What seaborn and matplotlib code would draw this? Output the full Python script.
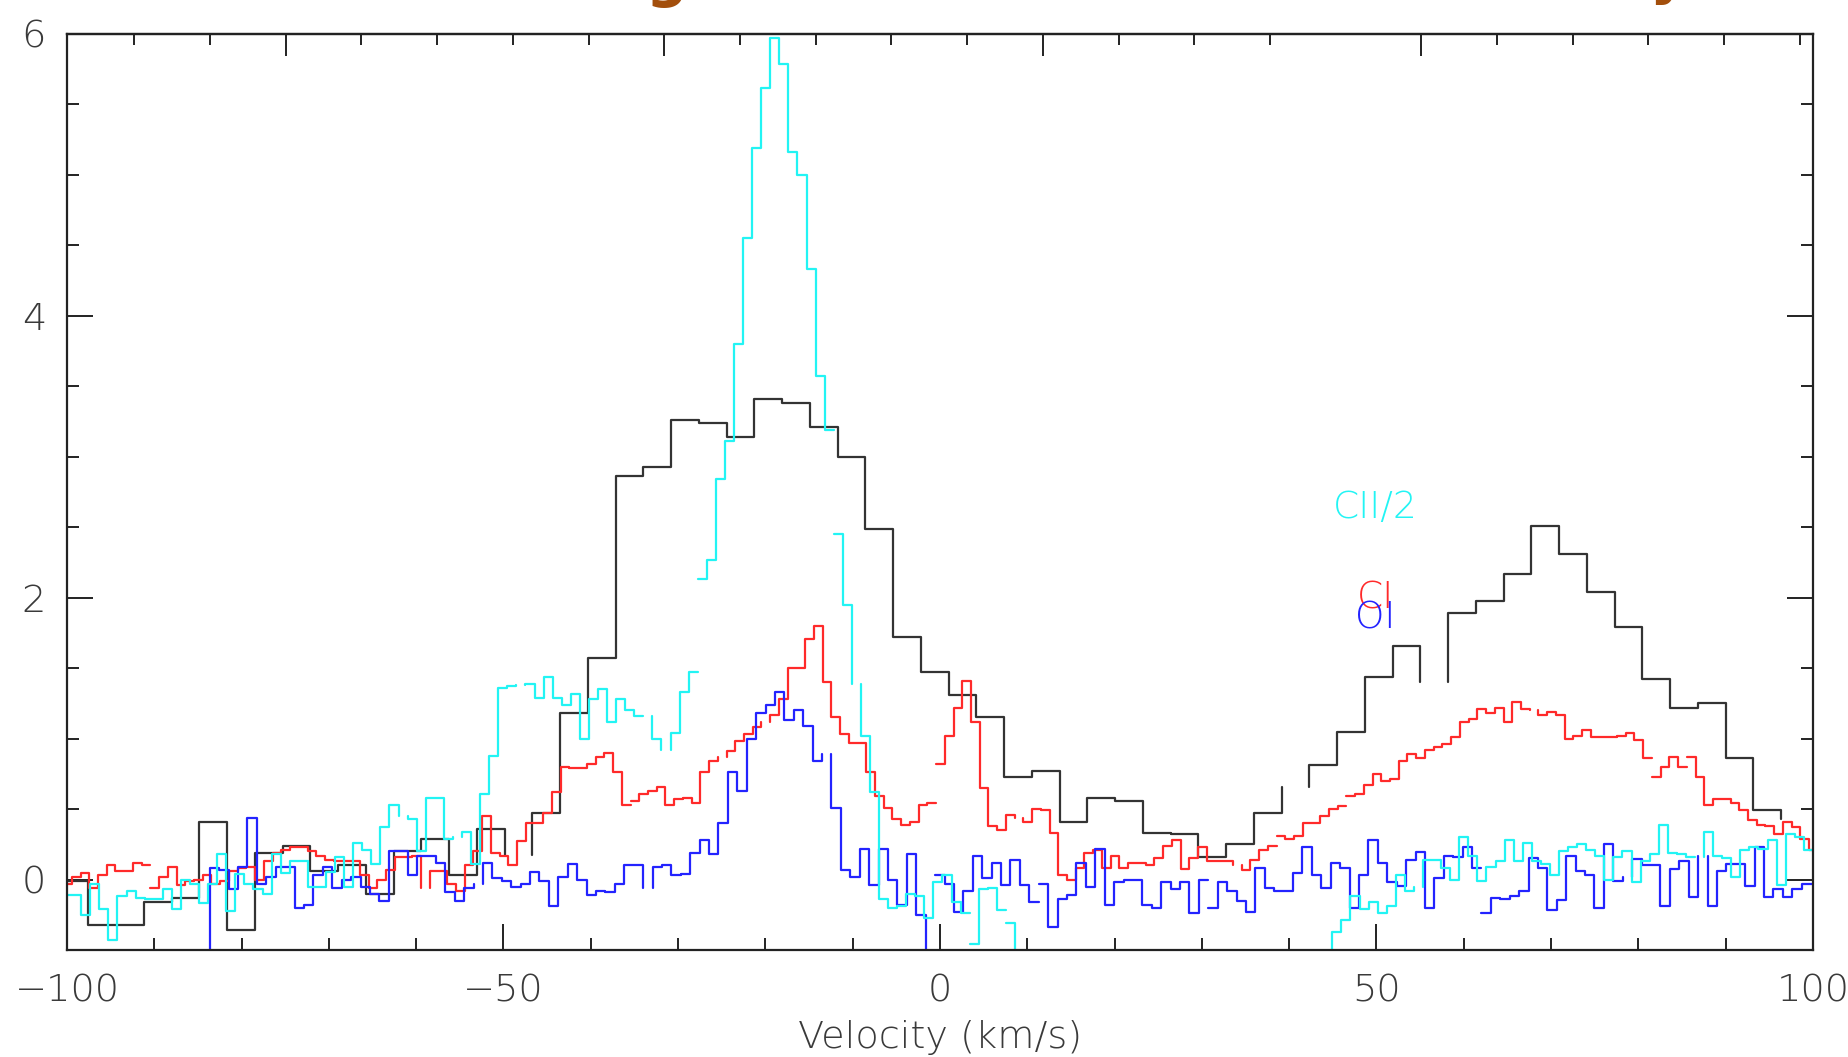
import numpy as np
import pandas as pd
import matplotlib
matplotlib.use("Agg")
import matplotlib.pyplot as plt
from matplotlib import font_manager as fm
import seaborn as sns

# ---------------- data ----------------
# black spectrum: coarse channels
black_start = -100.74
black_width = 3.179
black_vals = [-0.01, -0.32, -0.32, -0.16, -0.13, 0.41, -0.36, 0.19, 0.24, 0.06,
              0.10, -0.10, 0.20, 0.29, 0.03, 0.36, 0.175, 0.47, 1.18, 1.57,
              2.86, 2.93, 3.26, 3.24, 3.14, 3.41, 3.38, 3.21, 3.00, 2.49,
              1.72, 1.47, 1.31, 1.15, 0.73, 0.77, 0.41, 0.58, 0.56, 0.33,
              0.32, 0.16, 0.25, 0.47, 0.66, 0.815, 1.05, 1.44, 1.66, 1.40,
              1.89, 1.98, 2.17, 2.51, 2.31, 2.04, 1.79, 1.42, 1.22, 1.25,
              0.86, 0.49, 0.43]
black_hidden = [16, 44, 49, 62]
black_breaks = []

# CI (red)
ci_start = -100.45
ci_width = 1.0
ci_vals = [-0.03, 0.02, 0.045, -0.06, 0.03, 0.10, 0.06, 0.06, 0.12, 0.10,
           -0.06, 0.02, 0.09, -0.04, -0.01, 0.00, 0.03, -0.03, -0.01, 0.06,
           0.08, 0.09, 0.00, 0.13, 0.19, 0.21, 0.23, 0.23, 0.20, 0.17,
           0.14, 0.13, 0.13, 0.13, 0.03, -0.06, 0.00, 0.07, 0.16, 0.16,
           0.17, -0.06, 0.06, 0.06, -0.03, -0.08, 0.10, 0.20, 0.45, 0.19,
           0.17, 0.10, 0.27, 0.40, 0.40, 0.47, 0.62, 0.80, 0.79, 0.79,
           0.82, 0.87, 0.90, 0.76, 0.53, 0.56, 0.61, 0.625, 0.66, 0.53,
           0.57, 0.58, 0.54, 0.76, 0.84, 0.87, 0.91, 0.98, 1.03, 1.08,
           1.12, 1.17, 1.28, 1.50, 1.50, 1.71, 1.80, 1.40, 1.15, 1.03,
           0.97, 0.97, 0.76, 0.59, 0.51, 0.43, 0.39, 0.41, 0.53, 0.54,
           0.82, 1.02, 1.22, 1.41, 1.12, 0.65, 0.38, 0.35, 0.46, 0.44,
           0.41, 0.50, 0.49, 0.33, 0.03, 0.00, 0.08, 0.19, 0.21, 0.085,
           0.17, 0.085, 0.12, 0.12, 0.10, 0.15, 0.24, 0.28, 0.076, 0.15,
           0.23, 0.13, 0.13, 0.13, 0.10, 0.07, 0.14, 0.21, 0.24, 0.31,
           0.29, 0.31, 0.40, 0.40, 0.45, 0.50, 0.52, 0.59, 0.61, 0.67,
           0.75, 0.70, 0.71, 0.84, 0.89, 0.86, 0.92, 0.94, 0.96, 1.01,
           1.12, 1.14, 1.21, 1.18, 1.22, 1.12, 1.26, 1.21, 1.20, 1.17,
           1.19, 1.17, 1.00, 1.02, 1.06, 1.01, 1.01, 1.01, 1.02, 1.04,
           0.99, 0.86, 0.73, 0.80, 0.87, 0.80, 0.87, 0.73, 0.53, 0.57,
           0.57, 0.54, 0.49, 0.42, 0.39, 0.38, 0.32, 0.41, 0.37, 0.29,
           0.21]
ci_hidden = [41, 75, 80, 109, 134, 168]
ci_breaks = [10, 65, 100, 139, 147, 182, 186]

# OI (blue)
oi_start = -84.722
oi_width = 1.079
oi_vals = [-1.0, 0.08, 0.07, -0.07, 0.09, 0.44, -0.03, 0.02, 0.09, 0.09,
           -0.20, -0.18, 0.03, 0.09, -0.06, 0.00, 0.02, -0.05, -0.10, -0.15,
           0.20, 0.20, 0.03, 0.17, 0.17, 0.12, -0.09, -0.15, -0.06, -0.03,
           0.12, 0.01, -0.01, -0.05, -0.03, 0.05, -0.01, -0.19, 0.02, 0.11,
           0.00, -0.11, -0.08, -0.09, -0.03, 0.10, 0.10, -0.06, 0.09, 0.10,
           0.03, 0.04, 0.19, 0.28, 0.18, 0.40, 0.76, 0.63, 1.00, 1.18,
           1.24, 1.33, 1.13, 1.20, 1.09, 0.84, 0.89, 0.51, 0.07, 0.02,
           0.22, -0.04, 0.22, 0.00, -0.18, 0.18, -0.25, -1.0, 0.03, -0.03,
           -0.23, -0.08, 0.17, 0.01, 0.12, -0.04, 0.14, -0.04, -0.16, -0.03,
           -0.34, -0.14, -0.11, 0.12, -0.055, 0.22, -0.18, -0.02, 0.00, 0.00,
           -0.18, -0.20, -0.02, -0.066, -0.02, -0.24, 0.00, -0.20, -0.02, -0.08,
           -0.15, -0.23, 0.08, -0.06, -0.08, -0.08, 0.045, 0.23, 0.03, -0.06,
           0.12, 0.08, -0.20, 0.03, 0.28, 0.12, -0.02, -0.045, 0.14, 0.195,
           -0.20, 0.01, 0.17, 0.16, 0.23, 0.08, -0.24, -0.13, -0.14, -0.12,
           -0.08, 0.15, 0.08, -0.215, -0.145, 0.17, 0.06, 0.033, -0.204, 0.25,
           -0.01, 0.02, 0.147, 0.105, 0.105, -0.185, 0.073, 0.135, -0.125, 0.17,
           -0.185, 0.06, 0.11, 0.11, -0.045, 0.23, -0.125, -0.066, -0.125, -0.07,
           -0.035, -0.035]
oi_hidden = [0, 29, 47, 66, 77, 151, 159]
oi_breaks = [78, 89, 107, 136]

# CII/2 (cyan)
cii_start = -100.449
cii_width = 1.0385
nan = float("nan")
cii_vals = [-0.11, -0.11, -0.25, -0.03, -0.21, -0.43, -0.12, -0.08, -0.13, -0.14,
            -0.14, -0.07, -0.21, 0.00, -0.03, -0.17, -0.03, 0.18, -0.22, 0.04,
            -0.03, -0.07, -0.10, 0.18, 0.045, 0.13, 0.13, -0.05, -0.05, 0.05,
            0.16, -0.05, 0.26, 0.21, 0.11, 0.37, 0.53, 0.45, 0.43, 0.20,
            0.58, 0.58, 0.29, 0.30, 0.34, 0.11, 0.61, 0.88, 1.36, 1.37,
            1.38, 1.39, 1.29, 1.44, 1.29, 1.24, 1.32, 1.00, 1.28, 1.35,
            1.12, 1.28, 1.20, 1.16, 1.16, 1.00, 0.92, 1.04, 1.33, 1.47,
            2.13, 2.27, 2.84, 3.11, 3.80, 4.55, 5.19, 5.62, 5.97, 5.79,
            5.16, 5.00, 4.33, 3.57, 3.19, 2.45, 1.95, 1.39, 1.02, 0.62,
            -0.14, -0.20, -0.19, -0.10, -0.12, -0.27, -0.02, 0.033, -0.16, -0.24,
            -0.46, -0.066, -0.057, -0.215, -0.31, -1.0,
            nan, nan, nan, nan, nan, nan, nan, nan, nan, nan, nan,
            nan, nan, nan, nan, nan, nan, nan, nan, nan, nan, nan,
            nan, nan, nan, nan, nan, nan, nan, nan, nan, nan, nan,
            -1.0, -0.37, -0.29, -0.12, -0.21, -0.16, -0.24, -0.19, 0.033, -0.08,
            -0.05, 0.14, 0.14, 0.08, 0.00, 0.30, 0.17, -0.01, 0.09, 0.13,
            0.28, 0.13, 0.26, 0.13, 0.11, 0.033, 0.20, 0.23, 0.25, 0.21,
            0.17, 0.00, 0.16, 0.20, -0.02, 0.13, 0.18, 0.39, 0.19, 0.18,
            0.16, 0.16, 0.34, 0.17, 0.15, 0.02, 0.21, 0.23, 0.22, 0.28,
            -0.04, 0.32, 0.30, 0.21]
cii_hidden = [37, 43, 50, 64, 66, 87, 105, 139, 149, 180]
cii_breaks = [70, 85, 100, 104]

# line labels
label_texts = ["CII/2", "CI", "OI"]
label_x = [49.9, 49.9, 49.9]
label_y = [2.64, 2.00, 1.855]

# tick positions
x_major = [-100, -50, 0, 50, 100]
x_minor = [-90, -80, -70, -60, -40, -30, -20, -10, 10, 20, 30, 40, 60, 70, 80, 90]
y_major = [0, 2, 4, 6]
y_minor = [-0.5, 0.5, 1.0, 1.5, 2.5, 3.0, 3.5, 4.5, 5.0, 5.5]
top_major = [-74.94, -31.58, 11.78, 55.13]
top_minor = [-92.28, -83.61, -66.27, -57.59, -48.92, -40.25, -22.91, -14.24,
             -5.57, 3.11, 20.45, 29.12, 37.79, 63.80, 72.47, 81.14, 89.81, 98.48]

# ---------------- helpers ----------------
def step_frame(start, width, values, hidden=(), breaks=()):
    rows = []
    seg = [0]
    cur = []

    def flush(c):
        if len(c) >= 2:
            for (x, y) in c:
                rows.append((x, y, seg[0]))
            seg[0] += 1

    hidden = set(hidden)
    breaks = set(breaks)
    for k, v in enumerate(values):
        e0 = start + k * width
        e1 = e0 + width
        if v is None or np.isnan(v):
            flush(cur)
            cur = []
            continue
        if cur and k not in breaks:
            cur.append((e0, v))
        else:
            flush(cur)
            cur = [(e0, v)]
        if k in hidden:
            flush(cur)
            cur = [(e1, v)]
        else:
            cur.append((e1, v))
    flush(cur)
    return pd.DataFrame(rows, columns=["velocity", "intensity", "segment"])


def pick_font():
    avail = {}
    for f in fm.fontManager.ttflist:
        w = f.weight
        if isinstance(w, str):
            w = {"ultralight": 200, "light": 300, "normal": 400, "regular": 400,
                 "thin": 100, "extra-light": 200}.get(w.lower(), 400)
        avail.setdefault(f.name, set()).add(w)
    for name, wmax, use in [("DejaVu Sans", 250, 200), ("Lato", 300, 300),
                            ("Roboto", 300, 300), ("Open Sans", 300, 300)]:
        if any(w <= wmax for w in avail.get(name, set())):
            return name, use
    return "DejaVu Sans", 400


# ---------------- figure ----------------
sns.set_theme(style="white")
FONT, WEIGHT = pick_font()
plt.rcParams["font.family"] = [FONT, "DejaVu Sans"]
plt.rcParams["axes.unicode_minus"] = True

W, H = 1849, 1057
fig = plt.figure(figsize=(W / 100, H / 100), dpi=100)
ax = fig.add_axes([67 / W, (H - 950) / H, 1746 / W, 916 / H])

series = [
    (black_start, black_width, black_vals, black_hidden, black_breaks, "#333333"),
    (ci_start, ci_width, ci_vals, ci_hidden, ci_breaks, "#ff2a2a"),
    (oi_start, oi_width, oi_vals, oi_hidden, oi_breaks, "#2323ff"),
    (cii_start, cii_width, cii_vals, cii_hidden, cii_breaks, "#22f4f4"),
]
for st, wd, vals, hid, brk, col in series:
    df = step_frame(st, wd, vals, hid, brk)
    sns.lineplot(data=df, x="velocity", y="intensity", units="segment",
                 estimator=None, sort=False, color=col, linewidth=1.6,
                 ax=ax, legend=False)

label_colors = ["#22f4f4", "#ff2a2a", "#2323ff"]
for t, x, y, c in zip(label_texts, label_x, label_y, label_colors):
    ax.text(x, y, t, color=c, ha="center", va="center", fontsize=27,
            fontweight=WEIGHT, fontfamily=[FONT, "DejaVu Sans"])

ax.set_xlim(-100, 100)
ax.set_ylim(-0.5, 6.0)

txt_col = "#3a3a3a"
ax.set_xticks(x_major)
ax.set_xticks(x_minor, minor=True)
ax.set_yticks(y_major)
ax.set_yticks(y_minor, minor=True)
ax.tick_params(axis="x", which="both", direction="in", bottom=True, top=False,
               pad=17, labelsize=27.5, labelcolor=txt_col)
ax.tick_params(axis="y", which="both", direction="in", left=True, right=True,
               pad=15, labelsize=27.5, labelcolor=txt_col)
ax.tick_params(which="major", length=18.5, width=1.4, color="#222222")
ax.tick_params(which="minor", length=8.5, width=1.4, color="#222222")
for lab in ax.get_xticklabels() + ax.get_yticklabels():
    lab.set_fontweight(WEIGHT)

secax = ax.secondary_xaxis("top")
secax.set_xticks(top_major)
secax.set_xticks(top_minor, minor=True)
secax.set_xticklabels([])
secax.tick_params(which="both", direction="in", labeltop=False, color="#222222", width=1.4)
secax.tick_params(which="major", length=16)
secax.tick_params(which="minor", length=8)
secax.spines["top"].set_linewidth(1.6)
secax.spines["top"].set_color("#222222")

for s in ax.spines.values():
    s.set_linewidth(1.6)
    s.set_color("#222222")
    s.set_visible(True)

ax.set_xlabel("Velocity (km/s)", fontsize=27.5, color=txt_col, fontweight=WEIGHT)
ax.xaxis.set_label_coords(0.5, -0.107)
ax.xaxis.label.set_va("baseline")
ax.set_ylabel("")

# fragments of the slide title cut by the top edge
fig.text(666 / W, 1 + 4 / H, "g", fontsize=42, color="#a34f0c",
         ha="center", va="baseline", fontweight="bold", fontfamily="DejaVu Sans")
fig.text(1668 / W, 1 + 7 / H, "y", fontsize=42, color="#a34f0c",
         ha="center", va="baseline", fontweight="bold", fontfamily="DejaVu Sans")

fig.savefig("out.png", dpi=100, facecolor="white")
